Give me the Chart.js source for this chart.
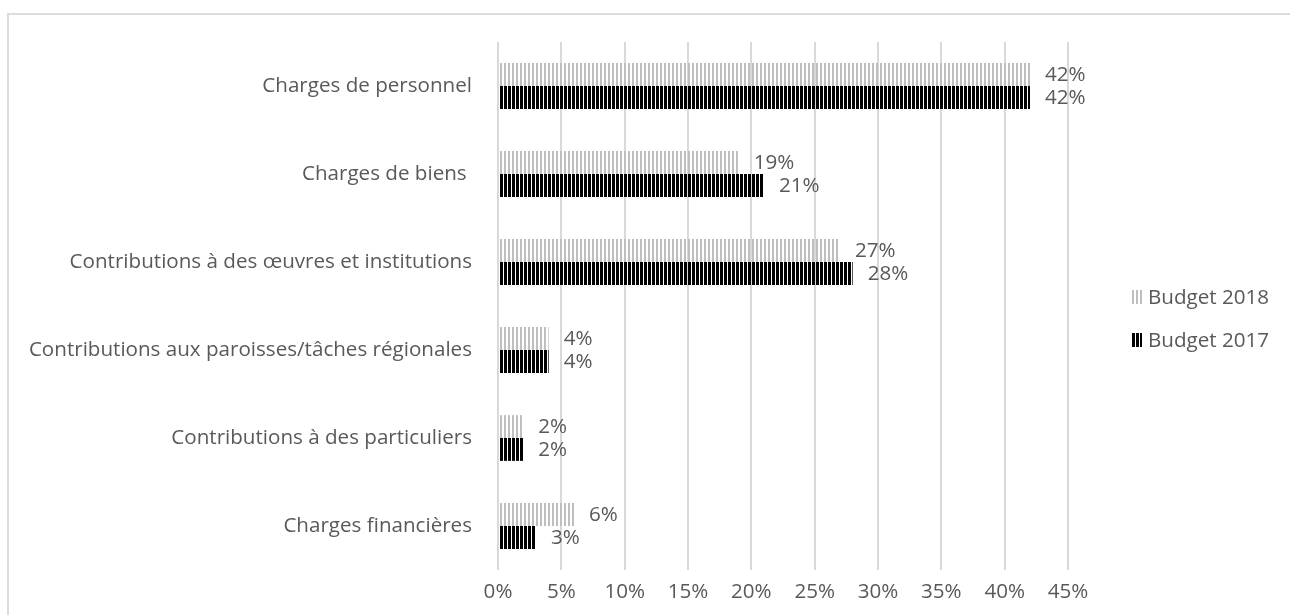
<!DOCTYPE html>
<html>
<head>
<meta charset="utf-8">
<script src="https://cdn.jsdelivr.net/npm/chart.js@4/dist/chart.umd.min.js"></script>
<style>
    body { margin: 0; background: #fff; overflow: hidden; }
    #frame { position: absolute; left: 7px; top: 13px; width: 1300px; height: 700px; border: 2px solid #dcdcdc; }
    #wrap { position: absolute; left: 0; top: 0; width: 1290px; height: 615px; }
</style>
</head>
<body>
<div id="frame"></div>
<div id="wrap"><canvas id="chart"></canvas></div>
<script>
const categories = [
    "Charges de personnel",
    "Charges de biens ",
    "Contributions à des œuvres et institutions",
    "Contributions aux paroisses/tâches régionales",
    "Contributions à des particuliers",
    "Charges financières"
];
const budget2018 = [42, 19, 27, 4, 2, 6];
const budget2017 = [42, 21, 28, 4, 2, 3];
const seriesNames = ["Budget 2018", "Budget 2017"];

const FONT = "'Open Sans', 'Liberation Sans', sans-serif";
const SIZE = 20.6;
const TEXT = "#595959";

function stripes(color, on, period) {
    const c = document.createElement("canvas");
    c.width = period;
    c.height = 1;
    const ctx = c.getContext("2d");
    ctx.fillStyle = color;
    ctx.fillRect(0, 0, on, 1);
    return ctx.createPattern(c, "repeat");
}

const light = stripes("#bfbfbf", 2, 4);
const dark = stripes("#000000", 3, 4);

// value labels right of each bar
const valueLabels = {
    id: "valueLabels",
    afterDatasetsDraw(chart) {
        const ctx = chart.ctx;
        ctx.save();
        ctx.font = SIZE + "px " + FONT;
        ctx.fillStyle = TEXT;
        ctx.textBaseline = "middle";
        ctx.textAlign = "left";
        chart.data.datasets.forEach((ds, i) => {
            chart.getDatasetMeta(i).data.forEach((bar, j) => {
                ctx.fillText(ds.data[j] + "%", bar.x + 15, bar.y + 1);
            });
        });
        ctx.restore();
    }
};

// legend drawn by hand on the right
const sideLegend = {
    id: "sideLegend",
    afterDraw(chart) {
        const ctx = chart.ctx;
        const fills = [light, dark];
        const ys = [297, 340];
        ctx.save();
        ctx.font = SIZE + "px " + FONT;
        ctx.textBaseline = "middle";
        seriesNames.forEach((name, i) => {
            ctx.fillStyle = fills[i];
            ctx.fillRect(1131, ys[i] - 7, 11, 14);
            ctx.fillStyle = TEXT;
            ctx.fillText(name, 1148, ys[i] + 1);
        });
        ctx.restore();
    }
};

new Chart(document.getElementById("chart"), {
    type: "bar",
    data: {
        labels: categories,
        datasets: [
            {label: seriesNames[0], data: budget2018, backgroundColor: light},
            {label: seriesNames[1], data: budget2017, backgroundColor: dark}
        ]
    },
    options: {
        indexAxis: "y",
        responsive: true,
        maintainAspectRatio: false,
        animation: false,
        devicePixelRatio: 1,
        categoryPercentage: 0.52,
        barPercentage: 1,
        layout: {padding: {top: 42, right: 222, left: 0, bottom: 0}},
        plugins: {
            legend: {display: false},
            tooltip: {enabled: false}
        },
        scales: {
            x: {
                min: 0,
                max: 45,
                ticks: {
                    stepSize: 5,
                    padding: 10,
                    color: TEXT,
                    font: {family: FONT, size: SIZE},
                    callback: (v) => v + "%"
                },
                grid: {color: "#d9d9d9", lineWidth: 2, drawTicks: false},
                border: {display: false},
                afterFit: (scale) => { scale.height = 45; }
            },
            y: {
                ticks: {
                    padding: 26,
                    color: TEXT,
                    font: {family: FONT, size: SIZE}
                },
                grid: {display: false, drawTicks: false},
                border: {display: false},
                afterFit: (scale) => { scale.width = 498; }
            }
        }
    },
    plugins: [valueLabels, sideLegend]
});
</script>
</body>
</html>
